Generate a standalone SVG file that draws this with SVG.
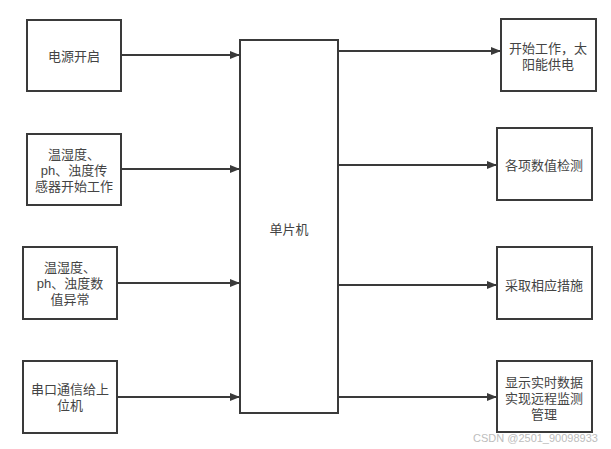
<svg xmlns="http://www.w3.org/2000/svg" width="611" height="449" viewBox="0 0 611 449">
<defs>
<style>
.box{fill:#fff;stroke:#3a3a3a;stroke-width:2}
.t{font-family:"Liberation Sans","Noto Sans CJK SC",sans-serif;font-size:13px;fill:#444;text-anchor:middle;dominant-baseline:central}
.c{stroke:#3a3a3a;stroke-width:2;fill:none;marker-end:url(#a)}
.w{font-family:"Liberation Sans","Noto Sans CJK SC",sans-serif;font-size:11px;fill:#bdbdbd}
</style>
<marker id="a" markerWidth="10" markerHeight="8" refX="10" refY="4" orient="auto" markerUnits="userSpaceOnUse">
<path d="M0,0 L10,4 L0,8 Z" fill="#3a3a3a"/>
</marker>
</defs>
<rect width="611" height="449" fill="#fff"/>
<g id="connectors">
<line class="c" x1="121" y1="55" x2="240" y2="55"/>
<line class="c" x1="121" y1="169" x2="240" y2="169"/>
<line class="c" x1="117" y1="283" x2="240" y2="283"/>
<line class="c" x1="117" y1="397" x2="240" y2="397"/>
<line class="c" x1="338" y1="51" x2="501" y2="51"/>
<line class="c" x1="338" y1="165" x2="497" y2="165"/>
<line class="c" x1="338" y1="285" x2="497" y2="285"/>
<line class="c" x1="338" y1="397" x2="497" y2="397"/>
</g>
<g id="mcu">
<rect class="box" x="240" y="40" width="98" height="373"/>
<text class="t" x="289" y="229">单片机</text>
</g>
<g id="power">
<rect class="box" x="27" y="20" width="94" height="71"/>
<text class="t" x="74" y="56">电源开启</text>
</g>
<g id="sensor">
<rect class="box" x="27" y="134" width="94" height="71"/>
<text class="t" x="74" y="154">温湿度、</text>
<text class="t" x="74" y="170">ph、浊度传</text>
<text class="t" x="74" y="186">感器开始工作</text>
</g>
<g id="abnormal">
<rect class="box" x="23" y="247" width="94" height="72"/>
<text class="t" x="70" y="267">温湿度、</text>
<text class="t" x="70" y="283">ph、浊度数</text>
<text class="t" x="70" y="299">值异常</text>
</g>
<g id="serial">
<rect class="box" x="23" y="361" width="94" height="72"/>
<text class="t" x="70" y="389">串口通信给上</text>
<text class="t" x="70" y="405">位机</text>
</g>
<g id="solar">
<rect class="box" x="501" y="19" width="95" height="72"/>
<text class="t" x="548" y="48">开始工作，太</text>
<text class="t" x="548" y="64">阳能供电</text>
</g>
<g id="detect">
<rect class="box" x="497" y="128" width="95" height="72"/>
<text class="t" x="544" y="165">各项数值检测</text>
</g>
<g id="measure">
<rect class="box" x="497" y="247" width="95" height="72"/>
<text class="t" x="544" y="285">采取相应措施</text>
</g>
<g id="display">
<rect class="box" x="497" y="361" width="95" height="71"/>
<text class="t" x="544" y="382">显示实时数据</text>
<text class="t" x="544" y="398">实现远程监测</text>
<text class="t" x="544" y="414">管理</text>
</g>
<text class="w" x="473" y="442">CSDN @2501_90098933</text>
</svg>
